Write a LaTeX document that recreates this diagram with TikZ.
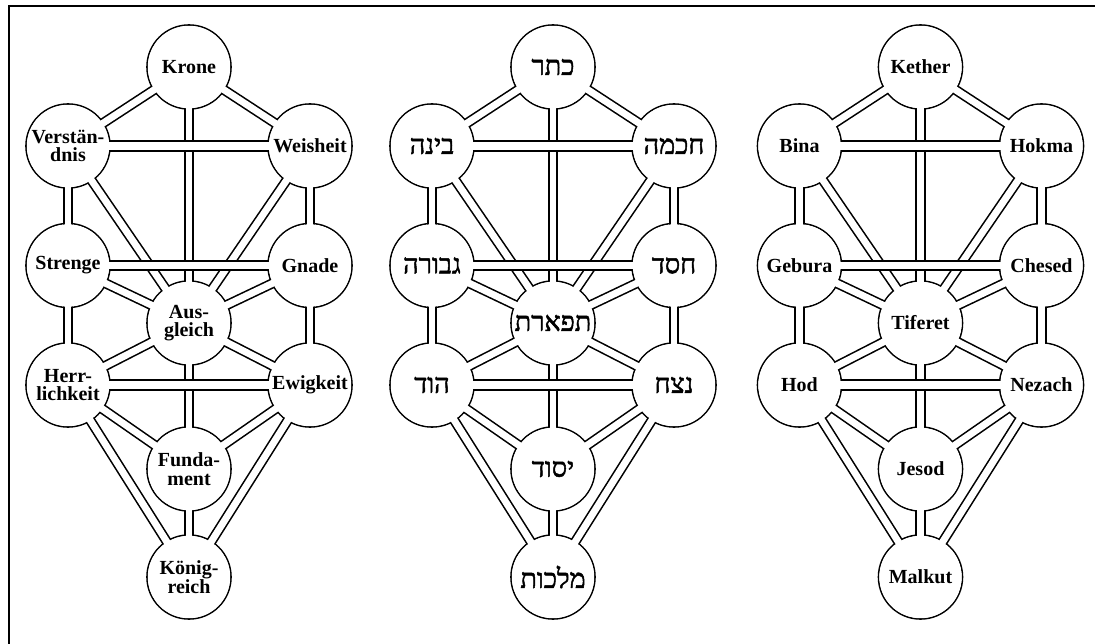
\documentclass[tikz,border=0pt]{standalone}
\usepackage{fontspec}
\setmainfont{Liberation Serif}
\newfontfamily\hebfont[Script=Hebrew,FakeBold=1.8]{Liberation Serif}
\TeXXeTstate=1
\pgfdeclarelayer{paper}
\pgfdeclarelayer{rings}
\pgfdeclarelayer{chans}
\pgfdeclarelayer{discs}
\pgfsetlayers{paper,rings,chans,discs,main}
\tikzset{
  sef/.style={circle, minimum size=84pt, inner sep=0pt, align=center,
    font=\bfseries\fontsize{20}{18.5}\selectfont},
  hsef/.style={circle, minimum size=84pt, inner sep=0pt,
    font=\hebfont\fontsize{27}{27}\selectfont},
  ring/.style={draw=black, line width=1.6pt},
  disc/.style={fill=white},
  chout/.style={draw=black, line width=10.1pt},
  chin/.style={draw=white, line width=6.9pt},
  hout/.style={draw=black, line width=11.1pt},
  hin/.style={draw=white, line width=7.9pt},
  frameline/.style={draw=black, line width=2pt, line join=miter}
}
\newcommand\treechannels[1]{%
  \begin{pgfonlayer}{rings}
    \foreach \n in {K,Bi,Ch,Gev,Ches,T,Hod,Netz,Y,M}
      \draw[ring] (#1\n.center) circle[radius=42pt];
  \end{pgfonlayer}
  \begin{pgfonlayer}{chans}
    \foreach \a/\b in {K/Bi,K/Ch,K/T,Bi/Gev,Ch/Ches,Bi/T,Ch/T,Gev/T,Ches/T,Gev/Hod,Ches/Netz,T/Hod,T/Netz,T/Y,Hod/Y,Netz/Y,Hod/M,Netz/M,Y/M}
      \draw[chout] (#1\a.center) -- (#1\b.center);
    \foreach \a/\b in {K/Bi,K/Ch,K/T,Bi/Gev,Ch/Ches,Bi/T,Ch/T,Gev/T,Ches/T,Gev/Hod,Ches/Netz,T/Hod,T/Netz,T/Y,Hod/Y,Netz/Y,Hod/M,Netz/M,Y/M}
      \draw[chin] (#1\a.center) -- (#1\b.center);
    \foreach \a/\b in {Bi/Ch,Gev/Ches,Hod/Netz}
      {\draw[hout] (#1\a.center) -- (#1\b.center);
       \draw[hin] (#1\a.center) -- (#1\b.center);}
  \end{pgfonlayer}
  \begin{pgfonlayer}{discs}
    \foreach \n in {K,Bi,Ch,Gev,Ches,T,Hod,Netz,Y,M}
      \fill[disc] (#1\n.center) circle[radius=41.2pt];
  \end{pgfonlayer}%
}
\begin{document}
\begin{tikzpicture}[x=1pt,y=-1pt]
\useasboundingbox (0,0) rectangle (1095,644);
\begin{pgfonlayer}{paper}
\fill[white] (0,0) rectangle (1095,644);
\end{pgfonlayer}
\draw[frameline] (1095,6.5) -- (9,6.5) -- (9,644);

% left tree (German)
\begin{scope}[xshift=189pt]
\node[sef] (lK)    at (0,67)       {Krone};
\node[sef] (lBi)   at (-121,146)   {Verstän-\\dnis};
\node[sef] (lCh)   at (121,146)    {Weisheit};
\node[sef] (lGev)  at (-121,265.5) {Strenge};
\node[sef] (lChes) at (121,265.5)  {Gnade};
\node[sef] (lT)    at (0,323)      {Aus-\\gleich};
\node[sef] (lHod)  at (-121,385)   {Herr-\\lichkeit};
\node[sef] (lNetz) at (121,385)    {Ewigkeit};
\node[sef] (lY)    at (0,469)      {Funda-\\ment};
\node[sef] (lM)    at (0,577)      {König-\\reich};
\end{scope}

% middle tree (Hebrew)
\begin{scope}[xshift=553pt]
\node[hsef] (mK)    at (0,67)       {\beginR כתר\endR};
\node[hsef] (mBi)   at (-121,146)   {\beginR בינה\endR};
\node[hsef] (mCh)   at (121,146)    {\beginR חכמה\endR};
\node[hsef] (mGev)  at (-121,265.5) {\beginR גבורה\endR};
\node[hsef] (mChes) at (121,265.5)  {\beginR חסד\endR};
\node[hsef] (mT)    at (0,323)      {\beginR תפארת\endR};
\node[hsef] (mHod)  at (-121,385)   {\beginR הוד\endR};
\node[hsef] (mNetz) at (121,385)    {\beginR נצח\endR};
\node[hsef] (mY)    at (0,469)      {\beginR יסוד\endR};
\node[hsef] (mM)    at (0,577)      {\beginR מלכות\endR};
\end{scope}

% right tree (transliteration)
\begin{scope}[xshift=920.5pt]
\node[sef] (rK)    at (0,67)       {Kether};
\node[sef] (rBi)   at (-121,146)   {Bina};
\node[sef] (rCh)   at (121,146)    {Hokma};
\node[sef] (rGev)  at (-121,265.5) {Gebura};
\node[sef] (rChes) at (121,265.5)  {Chesed};
\node[sef] (rT)    at (0,323)      {Tiferet};
\node[sef] (rHod)  at (-121,385)   {Hod};
\node[sef] (rNetz) at (121,385)    {Nezach};
\node[sef] (rY)    at (0,469)      {Jesod};
\node[sef] (rM)    at (0,577)      {Malkut};
\end{scope}

\treechannels{l}
\treechannels{m}
\treechannels{r}
\end{tikzpicture}
\end{document}
